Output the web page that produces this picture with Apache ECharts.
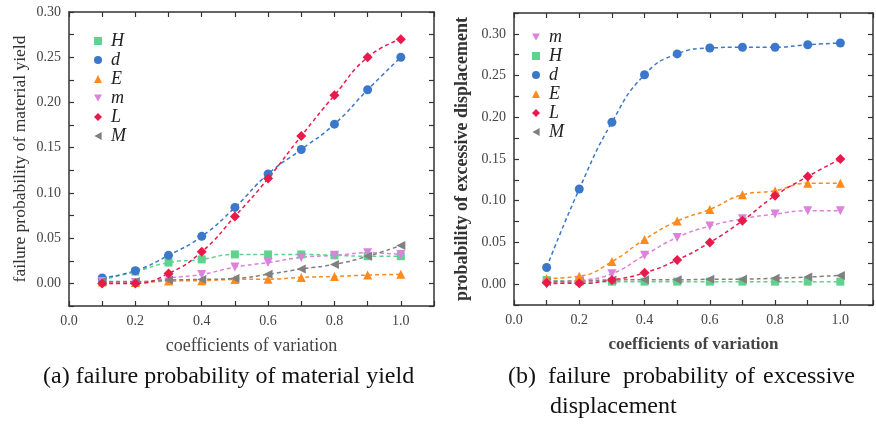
<!DOCTYPE html>
<html>
<head>
<meta charset="utf-8">
<script src="https://cdn.jsdelivr.net/npm/echarts@6/dist/echarts.min.js"></script>
<style>
  html, body { margin: 0; padding: 0; background: #fff; }
  #chart { width: 876px; height: 429px; }
</style>
</head>
<body>
<div id="chart"></div>
<script>
// coefficients of variation
var cov = [0.1, 0.2, 0.3, 0.4, 0.5, 0.6, 0.7, 0.8, 0.9, 1.0]

// (a) failure probability of material yield
var yieldH = [0.004, 0.013, 0.023, 0.0265, 0.032, 0.032, 0.032, 0.031, 0.030, 0.030]
var yieldD = [0.006, 0.014, 0.031, 0.052, 0.084, 0.121, 0.148, 0.176, 0.214, 0.250]
var yieldE = [0.0015, 0.001, 0.0026, 0.003, 0.0044, 0.0046, 0.0066, 0.0077, 0.0092, 0.0100]
var yieldm = [0.002, 0.001, 0.006, 0.0099, 0.018, 0.023, 0.0287, 0.031, 0.0338, 0.032]
var yieldL = [0.0, 0.0, 0.011, 0.035, 0.074, 0.116, 0.163, 0.208, 0.250, 0.270]
var yieldM = [0.002, 0.002, 0.0037, 0.0044, 0.0055, 0.010, 0.016, 0.021, 0.030, 0.042]

// (b) failure probability of excessive displacement
var dispH = [0.005, 0.003, 0.003, 0.003, 0.003, 0.003, 0.003, 0.003, 0.003, 0.003]
var dispD = [0.020, 0.114, 0.194, 0.251, 0.276, 0.283, 0.284, 0.284, 0.287, 0.289]
var dispE = [0.0068, 0.0095, 0.027, 0.0536, 0.0756, 0.0896, 0.107, 0.112, 0.121, 0.121]
var dispm = [0.0, 0.004, 0.0125, 0.0345, 0.056, 0.0696, 0.0784, 0.084, 0.088, 0.088]
var dispL = [0.0016, 0.001, 0.005, 0.0136, 0.029, 0.050, 0.076, 0.106, 0.129, 0.150]
var dispM = [0.003, 0.004, 0.005, 0.0052, 0.0052, 0.0058, 0.006, 0.007, 0.0085, 0.0105]

var legendLeft = ['H', 'd', 'E', 'm', 'L', 'M']
var legendRight = ['m', 'H', 'd', 'E', 'L', 'M']

var serif = '"Liberation Serif", "DejaVu Serif", serif'

var look = {
    H: { color: '#5fd38d', symbol: 'rect', size: 8 },
    d: { color: '#3b78c9', symbol: 'circle', size: 9 },
    E: { color: '#ff8a1c', symbol: 'triangle', size: 9 },
    m: { color: '#dc82dc', symbol: 'path://M0,0 L10,0 L5,9 Z', size: 9 },
    L: { color: '#e8194b', symbol: 'diamond', size: 10 },
    M: { color: '#808080', symbol: 'path://M0,5 L9,0 L9,10 Z', size: 9 }
}

function pairs(vals) {
    return cov.map(function (x, i) { return [x, vals[i]] })
}

function makeSeries(name, vals, gi) {
    var s = look[name]
    return {
        name: name,
        type: 'line',
        xAxisIndex: gi * 2,
        yAxisIndex: gi * 2,
        data: pairs(vals),
        smooth: true,
        symbol: s.symbol,
        symbolSize: s.size,
        itemStyle: { color: s.color },
        lineStyle: { color: s.color, width: 1.5, type: [4, 3] },
        z: 3
    }
}

function tenthLabel(v) {
    var k = Math.round(v * 10)
    return k % 2 === 0 && k <= 10 ? (k / 10).toFixed(1) : ''
}
function yLabel(v) {
    var k = Math.round(v * 40)
    return k % 2 === 0 && k >= 0 ? v.toFixed(2) : ''
}

var frame = { onZero: false, lineStyle: { color: '#333', width: 1.5 } }
var tick = { inside: true, length: 5, lineStyle: { color: '#333', width: 1.2 } }

function xAxes(gi, size, bold) {
    return [{
        gridIndex: gi, type: 'value', position: 'bottom',
        min: 0, max: 1.1, interval: 0.1,
        axisLine: frame, axisTick: tick, splitLine: { show: false },
        axisLabel: { formatter: tenthLabel, fontFamily: serif, fontSize: 14, color: '#444', margin: 8 },
        name: 'coefficients of variation', nameLocation: 'middle', nameGap: 31,
        nameTextStyle: { fontFamily: serif, fontSize: size, color: '#444', fontWeight: bold ? 'bold' : 'normal' }
    }, {
        gridIndex: gi, type: 'value', position: 'top',
        min: 0, max: 1.1, interval: 0.1,
        axisLine: frame, axisTick: tick, axisLabel: { show: false }, splitLine: { show: false }
    }]
}

function yAxes(gi, max, title, size, gap, bold) {
    return [{
        gridIndex: gi, type: 'value', position: 'left',
        min: -0.025, max: max, interval: 0.025,
        axisLine: frame, axisTick: tick, splitLine: { show: false },
        axisLabel: { formatter: yLabel, fontFamily: serif, fontSize: 14, color: '#444', margin: 8 },
        name: title, nameLocation: 'middle', nameGap: gap,
        nameTextStyle: { fontFamily: serif, fontSize: size, color: '#333', fontWeight: bold ? 'bold' : 'normal' }
    }, {
        gridIndex: gi, type: 'value', position: 'right',
        min: -0.025, max: max, interval: 0.025,
        axisLine: frame, axisTick: tick, axisLabel: { show: false }, splitLine: { show: false }
    }]
}

function legendData(names) {
    return names.map(function (n) { return { name: n, icon: look[n].symbol } })
}

var legendStyle = {
    orient: 'vertical',
    itemWidth: 8,
    itemHeight: 8,
    itemGap: 1,
    selectedMode: false,
    textStyle: { fontFamily: serif, fontStyle: 'italic', fontSize: 18, lineHeight: 18, color: '#222', padding: [0, 0, 0, 4] }
}

// caption (b) is justified in the original, so its words are placed one by one
var captionB = [['(b)', 508], ['failure', 548], ['probability', 623], ['of', 735], ['excessive', 763]]
var capFont = '24px ' + serif

var graphics = [
    { type: 'text', style: { x: 43, y: 377, verticalAlign: 'middle', text: '(a) failure probability of material yield', font: capFont, fill: '#111' } },
    { type: 'text', style: { x: 550, y: 407, verticalAlign: 'middle', text: 'displacement', font: capFont, fill: '#111' } }
]
captionB.forEach(function (w) {
    graphics.push({ type: 'text', style: { x: w[1], y: 377, verticalAlign: 'middle', text: w[0], font: capFont, fill: '#111' } })
})

var myChart = echarts.init(document.getElementById('chart'))
myChart.setOption({
    animation: false,
    backgroundColor: '#fff',
    grid: [
        { left: 69, right: 442, top: 12, bottom: 123 },
        { left: 514, right: 2, top: 13, bottom: 124 }
    ],
    xAxis: xAxes(0, 18, false).concat(xAxes(1, 17, true)),
    yAxis: yAxes(0, 0.3, 'failure probability of material yield', 17.5, 40, false)
        .concat(yAxes(1, 0.325, 'probability of excessive displacement', 18, 43, true)),
    legend: [
        Object.assign({ data: legendData(legendLeft), left: 89, top: 27 }, legendStyle),
        Object.assign({ data: legendData(legendRight), left: 527, top: 23 }, legendStyle)
    ],
    series: [
        makeSeries('H', yieldH, 0),
        makeSeries('d', yieldD, 0),
        makeSeries('E', yieldE, 0),
        makeSeries('m', yieldm, 0),
        makeSeries('M', yieldM, 0),
        makeSeries('L', yieldL, 0),
        makeSeries('H', dispH, 1),
        makeSeries('M', dispM, 1),
        makeSeries('m', dispm, 1),
        makeSeries('E', dispE, 1),
        makeSeries('L', dispL, 1),
        makeSeries('d', dispD, 1)
    ],
    graphic: graphics
})
</script>
</body>
</html>
